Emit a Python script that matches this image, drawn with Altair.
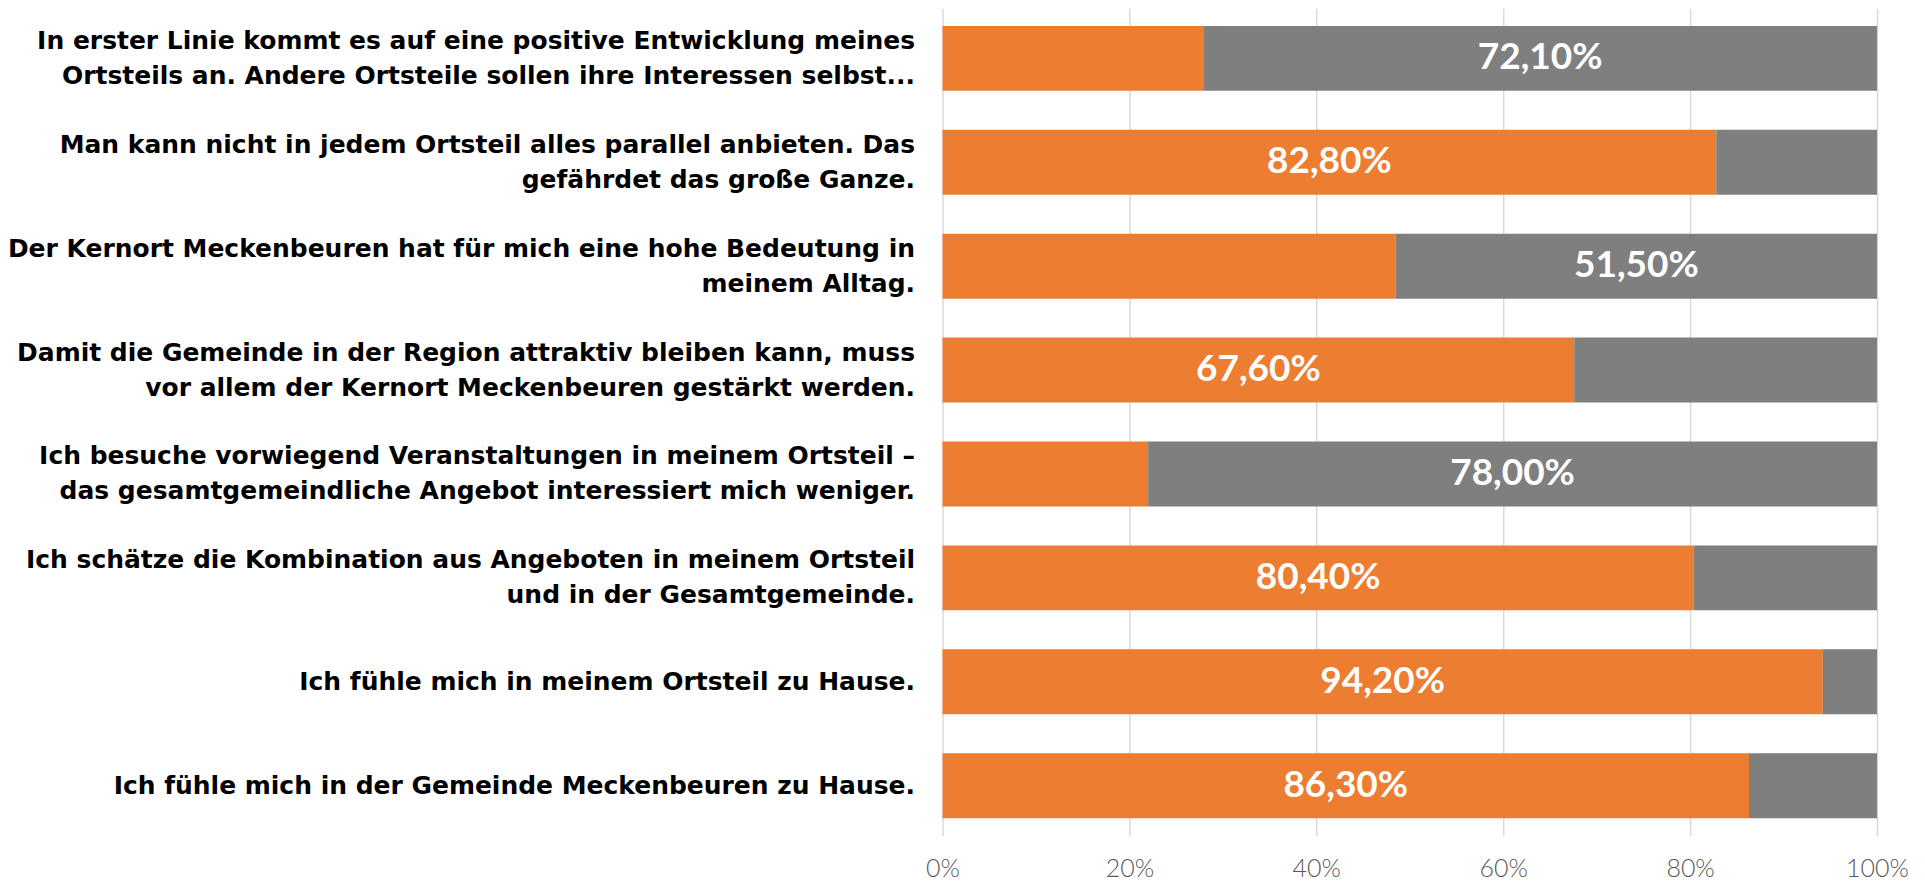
import altair as alt
import pandas as pd

questions = [
    "In erster Linie kommt es auf eine positive Entwicklung meines|Ortsteils an. Andere Ortsteile sollen ihre Interessen selbst...",
    "Man kann nicht in jedem Ortsteil alles parallel anbieten. Das|gefährdet das große Ganze.",
    "Der Kernort Meckenbeuren hat für mich eine hohe Bedeutung in|meinem Alltag.",
    "Damit die Gemeinde in der Region attraktiv bleiben kann, muss|vor allem der Kernort Meckenbeuren gestärkt werden.",
    "Ich besuche vorwiegend Veranstaltungen in meinem Ortsteil –|das gesamtgemeindliche Angebot interessiert mich weniger.",
    "Ich schätze die Kombination aus Angeboten in meinem Ortsteil|und in der Gesamtgemeinde.",
    "Ich fühle mich in meinem Ortsteil zu Hause.",
    "Ich fühle mich in der Gemeinde Meckenbeuren zu Hause.",
]
agree = [27.9, 82.8, 48.5, 67.6, 22.0, 80.4, 94.2, 86.3]
disagree = [72.1, 17.2, 51.5, 32.4, 78.0, 19.6, 5.8, 13.7]
series = ["Zustimmung", "Ablehnung"]
colors = ["#ED7D31", "#7F7F7F"]
ticks = [0, 0.2, 0.4, 0.6, 0.8, 1.0]

rows = []
for q, a, d in zip(questions, agree, disagree):
    for i, (s, v) in enumerate(zip(series, [a, d])):
        rows.append({"q": q, "serie": s, "order": i, "value": v / 100,
                     "label": f"{v:.2f}%".replace(".", ",")})
df = pd.DataFrame(rows)

y = alt.Y("q:N", sort=questions, title=None,
          scale=alt.Scale(paddingInner=0.375, paddingOuter=0.17),
          axis=alt.Axis(domain=False, ticks=False, grid=False,
                        labelExpr="split(datum.label, '|')",
                        labelAlign="right", labelBaseline="middle",
                        labelOffset=alt.condition("indexof(datum.value, '|') >= 0",
                                                  alt.value(-17.5), alt.value(0)),
                        labelPadding=28, labelLimit=1200,
                        labelFont="DejaVu Sans", labelFontSize=25, labelFontWeight="bold",
                        labelColor="#000000", labelLineHeight=35))

bars = alt.Chart(df).mark_bar().encode(
    x=alt.X("value:Q", stack="zero", title=None,
            scale=alt.Scale(domain=[0, 1], nice=False),
            axis=alt.Axis(values=ticks, format=".0%", domain=False, ticks=False,
                          grid=True, gridColor="#D9D9D9", gridWidth=1.5,
                          labelFlush=False,
                          labelPadding=21, labelFont="Lato", labelFontWeight=300,
                          labelFontSize=25, labelColor="#595959")),
    y=y,
    color=alt.Color("serie:N", scale=alt.Scale(domain=series, range=colors), legend=None),
    order=alt.Order("order:Q"),
)

text = alt.Chart(df).transform_stack(
    stack="value", groupby=["q"], as_=["v0", "v1"], sort=[alt.SortField("order")]
).transform_calculate(
    mid="(datum.v0 + datum.v1) / 2"
).transform_filter(
    "datum.value > 0.5"
).mark_text(font="Lato", fontWeight="bold", fontSize=37, color="white",
            align="center", baseline="middle").encode(
    x=alt.X("mid:Q"),
    y=alt.Y("q:N", sort=questions),
    text="label:N",
)

chart = (bars + text).properties(
    width=935, height=828,
    autosize=alt.AutoSizeParams(type="none"),
    padding={"left": 935, "top": 0, "right": 40, "bottom": 45},
).configure_view(stroke=None)

chart.save("out.html", embed_options={"renderer": "svg", "actions": False})
